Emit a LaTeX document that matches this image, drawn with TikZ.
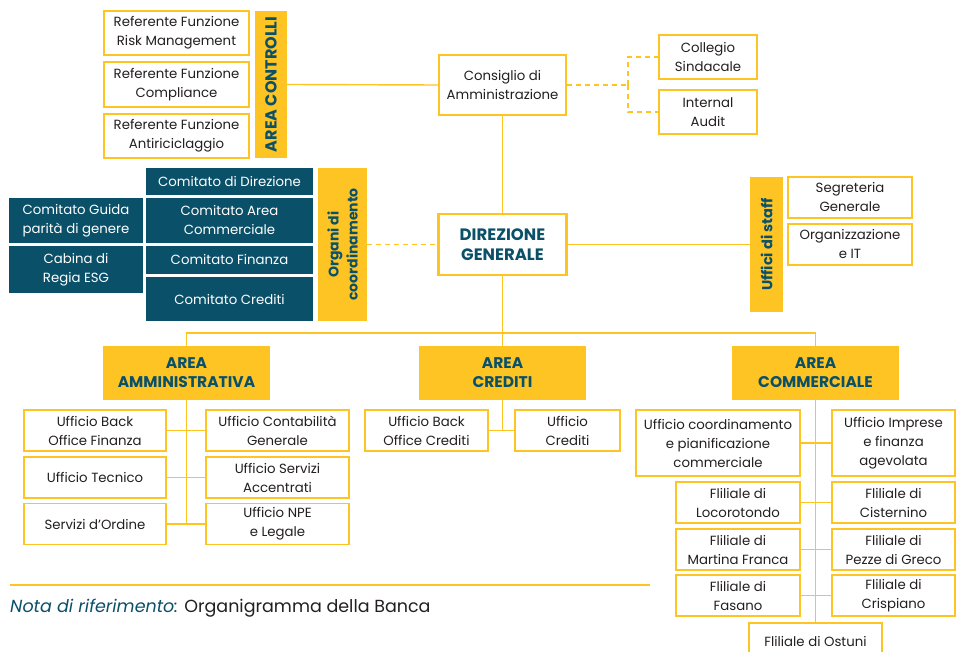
\documentclass[tikz,border=0pt]{standalone}
\usepackage{fontspec}
\setmainfont{Poppins}
\usepackage{tikz}
\usetikzlibrary{positioning, calc}
\definecolor{yel}{HTML}{FDC424}
\definecolor{tealc}{HTML}{0B5069}
\definecolor{ink}{HTML}{231F20}

\begin{document}
\begin{tikzpicture}[x=1pt,y=-1pt,
  every node/.style={font=\fontsize{13.3}{19}\selectfont, text=ink, align=center, inner sep=0pt},
  wbox/.style={draw=yel, line width=1.4pt, fill=white},
  tbox/.style={fill=tealc, text=white},
  ybar/.style={fill=yel, text=tealc, font=\fontsize{16}{18}\selectfont\bfseries},
  abox/.style={fill=yel, text=tealc, font=\fontsize{15.5}{19}\selectfont\bfseries, minimum width=167, minimum height=54},
  link/.style={draw=yel, line width=1.4pt},
  dlink/.style={link, dashed, dash pattern=on 5pt off 4pt}]
\useasboundingbox (0,0) rectangle (956,652);
% Area controlli
\node[wbox, minimum width=145, minimum height=44] (rm) at (176.5,33) {Referente Funzione\\Risk Management};
\node[wbox, minimum width=145, minimum height=45] (cp) at (176.5,84.5) {Referente Funzione\\Compliance};
\node[wbox, minimum width=145, minimum height=44] (ar) at (176.5,136) {Referente Funzione\\Antiriciclaggio};
\node[ybar, rotate=90, minimum width=147, minimum height=32] (ctrl) at (271,84.5) {AREA CONTROLLI};
% Vertice
\node[wbox, minimum width=127, minimum height=60] (cda) at (502.5,85) {Consiglio di\\Amministrazione};
\node[wbox, minimum width=98, minimum height=44] (cs) at (708,57) {Collegio\\Sindacale};
\node[wbox, minimum width=98, minimum height=44] (ia) at (708,112) {Internal\\Audit};
\node[wbox, line width=2.2pt, minimum width=128, minimum height=61, text=tealc, font=\fontsize{16.5}{20}\selectfont\bfseries] (dg) at (502.5,244.5) {DIREZIONE\\GENERALE};
% Organi di coordinamento
\node[tbox, minimum width=167, minimum height=27] (cd) at (229.5,181.5) {Comitato di Direzione};
\node[tbox, minimum width=167, minimum height=45] (cac) at (229.5,220.5) {Comitato Area\\Commerciale};
\node[tbox, minimum width=167, minimum height=28] (cf) at (229.5,260) {Comitato Finanza};
\node[tbox, minimum width=167, minimum height=44] (cc) at (229.5,299) {Comitato Crediti};
\node[tbox, minimum width=134, minimum height=45] (cg) at (76,220.5) {Comitato Guida\\parità di genere};
\node[tbox, minimum width=134, minimum height=47] (esg) at (76,269.5) {Cabina di\\Regia ESG};
\node[ybar, rotate=90, minimum width=153, minimum height=49, font=\fontsize{14}{19}\selectfont\bfseries] (org) at (342.5,244.5) {Organi di\\coordinamento};
% Uffici di staff
\node[ybar, rotate=90, minimum width=135, minimum height=33, font=\fontsize{14.5}{18}\selectfont\bfseries] (staff) at (766.5,244.5) {Uffici di staff};
\node[wbox, minimum width=124, minimum height=41] (sg) at (850,197.5) {Segreteria\\Generale};
\node[wbox, minimum width=124, minimum height=41] (oit) at (850,244.5) {Organizzazione\\e IT};
% Aree
\node[abox] (aam) at (186.5,373) {AREA\\AMMINISTRATIVA};
\node[abox] (acr) at (502.5,373) {AREA\\CREDITI};
\node[abox] (aco) at (815.5,373) {AREA\\COMMERCIALE};
% Area amministrativa
\node[wbox, minimum width=142, minimum height=41] (a1) at (95,430.5) {Ufficio Back\\Office Finanza};
\node[wbox, minimum width=142, minimum height=41] (a2) at (95,477.5) {Ufficio Tecnico};
\node[wbox, minimum width=142, minimum height=41] (a3) at (95,524) {Servizi d'Ordine};
\node[wbox, minimum width=143, minimum height=41] (b1) at (277.5,430.5) {Ufficio Contabilità\\Generale};
\node[wbox, minimum width=143, minimum height=41] (b2) at (277.5,477.5) {Ufficio Servizi\\Accentrati};
\node[wbox, minimum width=143, minimum height=41] (b3) at (277.5,524) {Ufficio NPE\\e Legale};
% Area crediti
\node[wbox, minimum width=123, minimum height=41] (c1) at (426.5,430.5) {Ufficio Back\\Office Crediti};
\node[wbox, minimum width=105, minimum height=41] (c2) at (567.5,430.5) {Ufficio\\Crediti};
% Area commerciale
\node[wbox, minimum width=164, minimum height=66] (m0) at (718,443) {Ufficio coordinamento\\e pianificazione\\commerciale};
\node[wbox, minimum width=123, minimum height=66] (n0) at (893.5,443) {Ufficio Imprese\\e finanza\\agevolata};
\node[wbox, minimum width=124, minimum height=41] (m1) at (738,502.5) {Fliliale di\\Locorotondo};
\node[wbox, minimum width=124, minimum height=41] (m2) at (738,549.5) {Fliliale di\\Martina Franca};
\node[wbox, minimum width=124, minimum height=41] (m3) at (738,595.5) {Fliliale di\\Fasano};
\node[wbox, minimum width=123, minimum height=41] (n1) at (893.5,502.5) {Fliliale di\\Cisternino};
\node[wbox, minimum width=123, minimum height=41] (n2) at (893.5,549.5) {Fliliale di\\Pezze di Greco};
\node[wbox, minimum width=123, minimum height=41] (n3) at (893.5,595.5) {Fliliale di\\Crispiano};
\node[wbox, minimum width=133, minimum height=37] (ost) at (815.5,641.5) {Fliliale di Ostuni};
% Connectors
\coordinate (dj) at (628,85);
\coordinate (split) at (502.5,333);
\draw[link] (ctrl.south) -- (cda.west);
\draw[dlink] (cda.east) -- (dj);
\draw[dlink] (dj) |- (cs.west);
\draw[dlink] (dj) |- (ia.west);
\draw[link] (cda.south) -- (dg.north);
\draw[dlink] (org.south) -- (dg.west);
\draw[link] (dg.east) -- (staff.north);
\draw[link] (dg.south) -- (acr.north);
\draw[link] (aam.north) |- (split) -| (aco.north);
\draw[link] (aam.south) -- (aam.south |- a3.east);
\foreach \i in {1,2,3} \draw[link] (a\i.east) -- (b\i.west);
\draw[link] (acr.south) -- (acr.south |- c1.east);
\draw[link] (c1.east) -- (c2.west);
\draw[link] (aco.south) -- (ost.north);
\foreach \i in {0,1,2,3} \draw[link] (m\i.east) -- (n\i.west);
% Nota
\draw[yel, line width=1.6pt] (10,585) -- (650,585);
\node[anchor=west, font=\fontsize{17.5}{20}\selectfont] (nota) at (10,608) {{\color{tealc}\itshape Nota di riferimento:} Organigramma della Banca};
\end{tikzpicture}
\end{document}
